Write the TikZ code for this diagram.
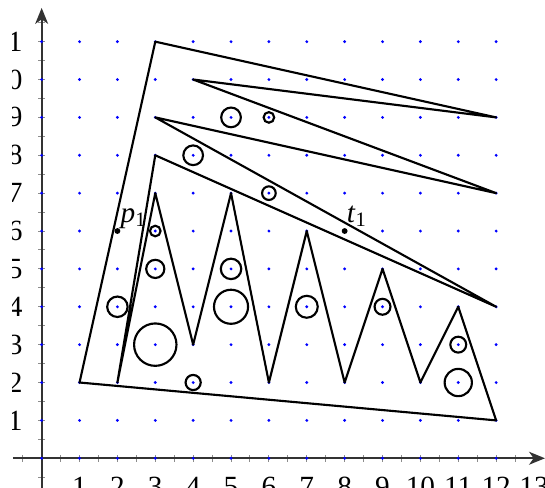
\documentclass[tikz,border=0pt]{standalone}
\usepackage{fontspec}
\setmainfont{Liberation Serif}
\usetikzlibrary{arrows.meta}
\begin{document}
\begin{tikzpicture}[x=1cm,y=1cm,
  outline/.style={line width=1.6pt, line join=round},
  hole/.style={line width=1.6pt},
  gdot/.style={fill=blue},
  axisline/.style={line width=1.4pt, draw=black!80, -{Stealth[length=4.2mm,width=3.4mm,inset=1.2mm]}},
  tickmark/.style={draw=black!45, line width=0.7pt},
  lab/.style={inner sep=0pt, font=\fontsize{22}{24}\selectfont},
  pt/.style={fill=black}]
\useasboundingbox (-1.10,-0.775) rectangle (13.29,12.10);
\begin{scope}
\clip (-0.76,-0.775) rectangle (13.29,12.10);
% ticks
\foreach \t in {-0.5,0.5,1,...,13} \draw[tickmark] (\t,-0.09) -- (\t,0.09);
\foreach \t in {-0.5,0.5,1,...,11.5} \draw[tickmark] (-0.09,\t) -- (0.09,\t);
% axes
\coordinate (xs) at (-0.76,0);
\coordinate (xe) at (13.29,0);
\coordinate (ys) at (0,-0.775);
\coordinate (ye) at (0,11.89);
\draw[axisline] (xs) -- (xe);
\draw[axisline] (ys) -- (ye);
% labels
\foreach \i in {1,...,13} \node[lab, anchor=north] (xl\i) at (\i,-0.5) {\i};
\foreach \i in {1,...,11} \node[lab, anchor=east] (yl\i) at (-0.5,\i) {\i};
\end{scope}
% grid dots
\foreach \x in {0,...,12} \foreach \y in {0,...,11} \fill[gdot] (\x,\y) circle (1.2pt);
% polygon
\draw[outline] (1,2) -- (3,11) -- (12,9) -- (4,10) -- (12,7) -- (3,9) -- (12,4) -- (3,8) -- (2,2)
  -- (3,7) -- (4,3) -- (5,7) -- (6,2) -- (7,6) -- (8,2) -- (9,5) -- (10,2) -- (11,4) -- (12,1) -- cycle;
% holes
\draw[hole] (5,9) circle (0.26);
\draw[hole] (6,9) circle (0.14);
\draw[hole] (4,8) circle (0.26);
\draw[hole] (6,7) circle (0.18);
\draw[hole] (2,4) circle (0.27);
\draw[hole] (3,3) circle (0.56);
\draw[hole] (3,5) circle (0.24);
\draw[hole] (3,6) circle (0.14);
\draw[hole] (4,2) circle (0.2);
\draw[hole] (5,5) circle (0.27);
\draw[hole] (5,4) circle (0.45);
\draw[hole] (7,4) circle (0.29);
\draw[hole] (9,4) circle (0.21);
\draw[hole] (11,3) circle (0.21);
\draw[hole] (11,2) circle (0.36);
% points
\coordinate (p1) at (2,6);
\coordinate (t1) at (8,6);
\fill[pt] (p1) circle (2.2pt);
\fill[pt] (t1) circle (2.2pt);
\node[lab, anchor=base west] (p1l) at (2.08,6.22) {\textit{p}\textsubscript{1}};
\node[lab, anchor=base west] (t1l) at (8.05,6.22) {\textit{t}\textsubscript{1}};
\end{tikzpicture}
\end{document}
